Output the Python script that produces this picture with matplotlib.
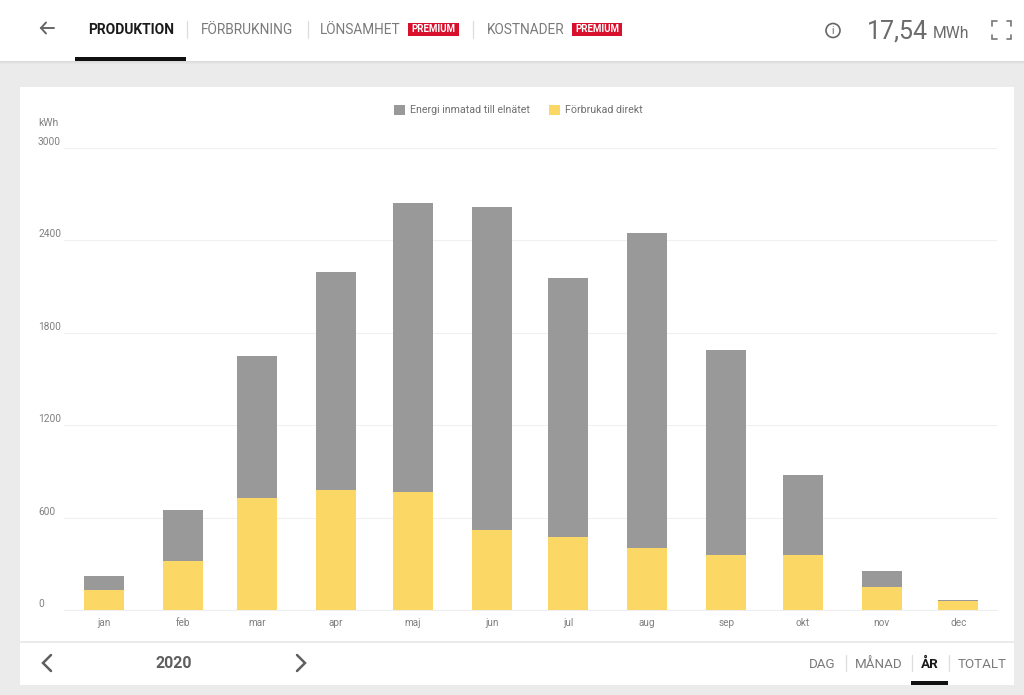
import matplotlib
matplotlib.use("Agg")
import matplotlib.pyplot as plt
from matplotlib.patches import Rectangle, Circle
from matplotlib.transforms import ScaledTranslation

plt.rcParams["font.family"] = ["Roboto", "DejaVu Sans"]

months = ["jan", "feb", "mar", "apr", "maj", "jun", "jul", "aug", "sep", "okt", "nov", "dec"]
month_start = [0, 31, 60, 91, 121, 152, 182, 213, 244, 274, 305, 335]
direct = [130, 318, 728, 780, 767, 520, 475, 403, 358, 358, 150, 60]
to_grid = [91, 332, 923, 1418, 1873, 2094, 1684, 2048, 1332, 520, 104, 8]
y_ticks = [0, 600, 1200, 1800, 2400, 3000]

GREY = "#999999"
YELLOW = "#fbd865"
W, H = 1024, 695

fig = plt.figure(figsize=(W / 100, H / 100), dpi=100, facecolor="#ebebeb")

# page chrome, in pixel coordinates
bg = fig.add_axes([0, 0, 1, 1])
bg.set_xlim(0, W)
bg.set_ylim(H, 0)
bg.axis("off")

for i, a in enumerate([0.10, 0.07, 0.04, 0.02]):
    bg.add_patch(Rectangle((0, 60 + i), W, 1, color="black", alpha=a, lw=0))
bg.add_patch(Rectangle((0, 0), W, 60.5, color="white", lw=0))
bg.add_patch(Rectangle((20, 87), 994, 554, color="white", lw=0))
bg.add_patch(Rectangle((20, 643), 994, 41.5, color="white", lw=0))
bg.add_patch(Rectangle((75, 57), 111, 3.5, color="#111111", lw=0))
bg.add_patch(Rectangle((911, 681), 37, 3.5, color="#111111", lw=0))


def label(x, y, s, size, color="#7a7a7a", weight="normal", ha="left"):
    bg.text(x, y, s, fontsize=size, color=color, weight=weight, ha=ha, va="center")


def stroke(xs, ys, color="#666666", lw=1.5):
    bg.plot(xs, ys, color=color, lw=lw, solid_capstyle="round", solid_joinstyle="miter")


# header tabs
label(88, 29.5, "PRODUKTION", 10, "#1a1a1a", "bold")
label(201, 29.5, "FÖRBRUKNING", 9.9)
label(320, 29.5, "LÖNSAMHET", 9.8)
label(487, 29.5, "KOSTNADER", 9.8)
for x0, x1 in [(408, 459), (572, 622)]:
    bg.add_patch(Rectangle((x0, 23), x1 - x0, 13, color="#d8102c", lw=0))
    bg.text((x0 + x1) / 2, 29.5, "PREMIUM", fontsize=7, color="white", weight="bold", ha="center", va="center")
for x in [186.5, 307.5, 472.5]:
    stroke([x, x], [21, 38], "#dddddd", 0.9)

# back arrow
stroke([41, 54], [28, 28], "#666666", 1.4)
stroke([46, 41, 46], [22.5, 28, 33.5], "#666666", 1.4)

# total and icons
bg.add_patch(Circle((833, 30.5), 7, fill=False, ec="#666666", lw=1.2))
bg.text(833, 30.5, "i", fontsize=7.5, color="#666666", ha="center", va="center")
label(867, 31.5, "17,54", 18, "#6b6b6b")
label(933, 33.5, "MWh", 11.3, "#6b6b6b")
for cx, cy, dx, dy in [(992, 21, 1, 1), (1011, 21, -1, 1), (992, 39, 1, -1), (1011, 39, -1, -1)]:
    stroke([cx + 4.5 * dx, cx, cx], [cy, cy, cy + 4.5 * dy], "#777777", 1.2)

# footer
label(155, 663.5, "2020", 11.5, "#5f5f5f", "bold")
stroke([51, 43, 51], [655, 663, 671], "#5f5f5f", 1.8)
stroke([297, 305, 297], [655, 663, 671], "#5f5f5f", 1.8)
label(809, 664.5, "DAG", 9.6)
label(855, 664.5, "MÅNAD", 9.6)
label(921, 664.5, "ÅR", 9.6, "#1a1a1a", "bold")
label(958, 664.5, "TOTALT", 9.6)
for x in [845.5, 911.5, 948.5]:
    stroke([x, x], [655, 671], "#dddddd", 0.9)

# chart: pixel span 64..997 across, y 3000 at 148 and 0 at 610
px_per_day = 2.55
ax = fig.add_axes([64 / W, 1 - 610 / H, (997 - 64) / W, (610 - 148) / H])
ax.patch.set_alpha(0)
ax.set_xlim((64 - 104) / px_per_day, (997 - 104) / px_per_day)
ax.set_ylim(0, 3000)

bar_w = 40 / px_per_day
h_grid = ax.bar(month_start, to_grid, bar_w, bottom=direct, color=GREY, label="Energi inmatad till elnätet", zorder=3)
h_direct = ax.bar(month_start, direct, bar_w, color=YELLOW, label="Förbrukad direkt", zorder=3)

for s in ["top", "right", "left"]:
    ax.spines[s].set_visible(False)
ax.spines["bottom"].set_color("#eeeeee")
ax.set_yticks(y_ticks)
ax.set_yticklabels([str(v) for v in y_ticks], fontsize=7.3, color="#808080", va="bottom", ha="left")
ax.tick_params(axis="y", length=0, pad=18.7)
# labels sit a little above their gridlines
up = ScaledTranslation(0, 1 / 100, fig.dpi_scale_trans)
for t in ax.get_yticklabels():
    t.set_transform(t.get_transform() + up)
ax.set_xticks(month_start)
ax.set_xticklabels(months, fontsize=7.2, color="#808080")
ax.tick_params(axis="x", length=0, pad=6)
ax.grid(axis="y", color="#f0f0f0", lw=0.8, zorder=0)
ax.set_axisbelow(True)

fig.legend(
    [h_grid, h_direct],
    ["Energi inmatad till elnätet", "Förbrukad direkt"],
    ncol=2,
    frameon=False,
    fontsize=7.7,
    labelcolor="#707070",
    handlelength=1.05,
    handleheight=1.1,
    handletextpad=0.45,
    columnspacing=1.8,
    loc="center",
    bbox_to_anchor=(518.5 / W, 1 - 110 / H),
)

bg.text(38, 122.5, "kWh", fontsize=7.5, color="#808080", ha="left", va="center")

fig.savefig("out.png", dpi=100, facecolor=fig.get_facecolor())
